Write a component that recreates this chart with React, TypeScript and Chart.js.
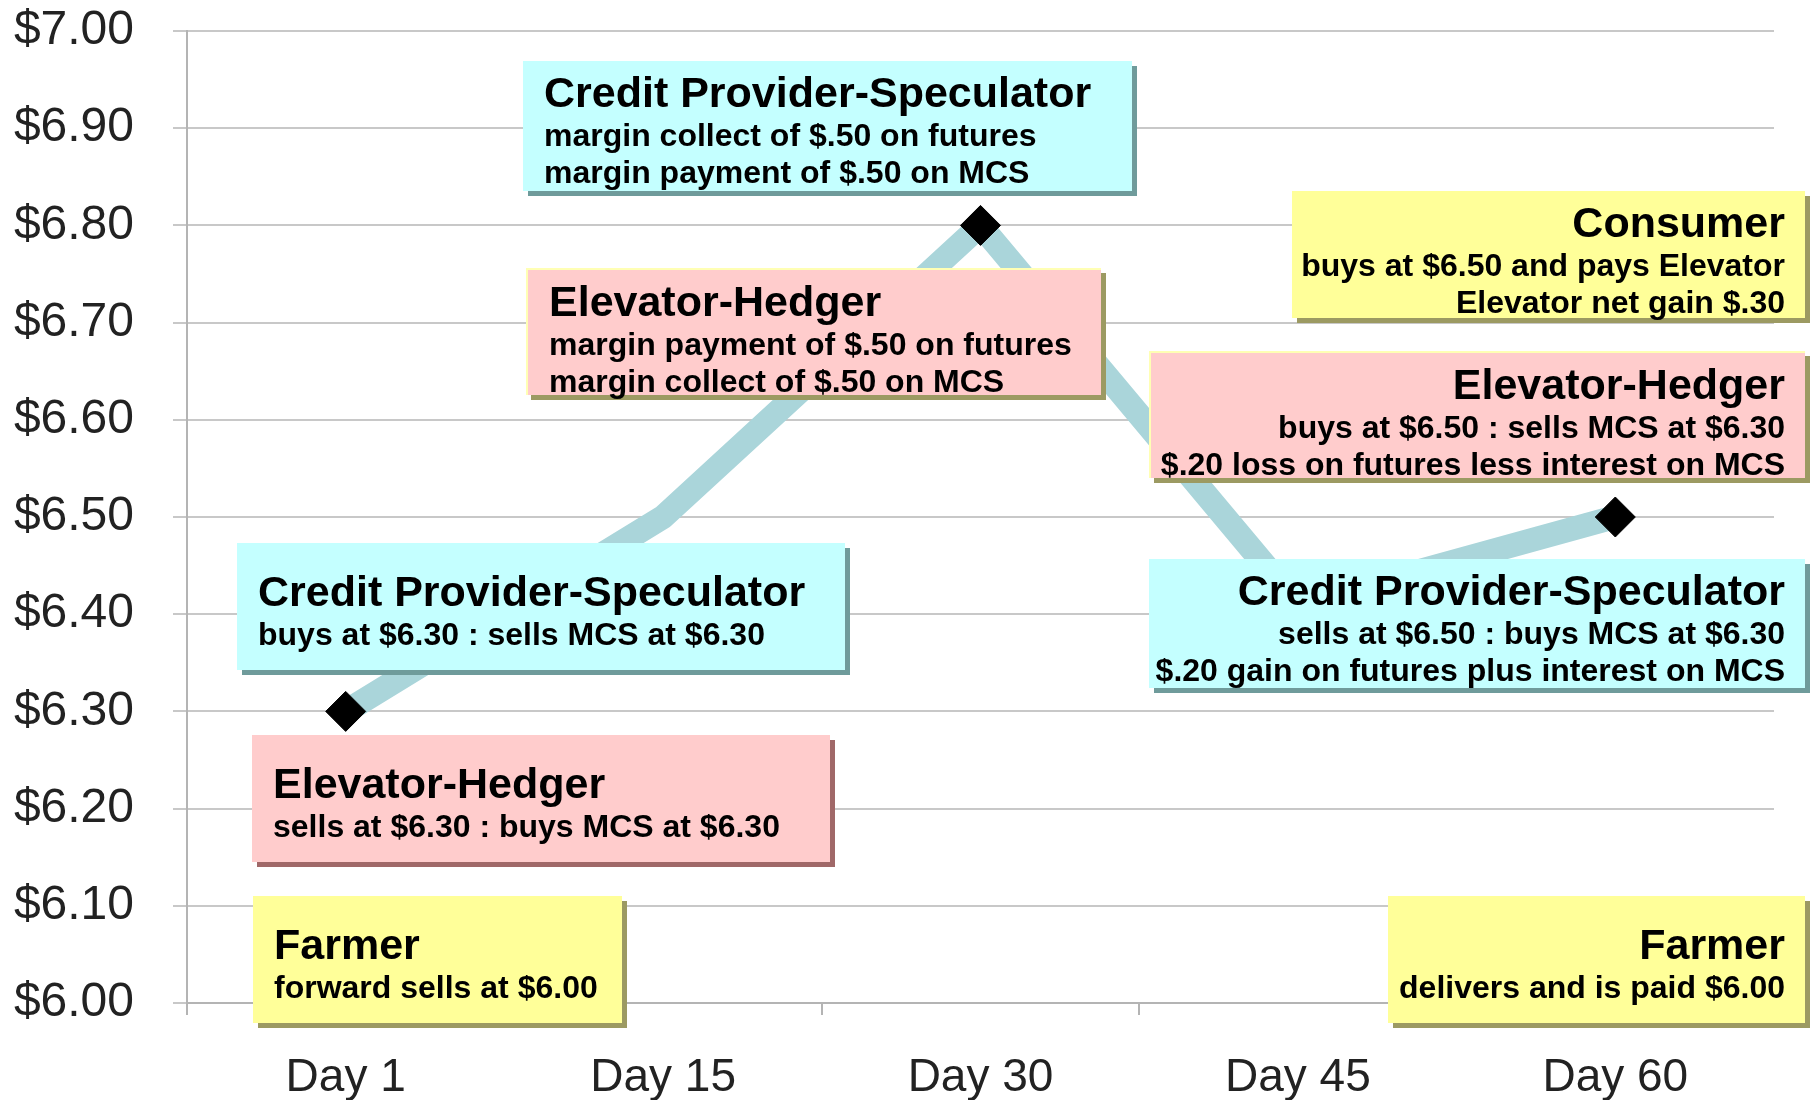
import React, { useEffect, useRef } from 'react';
import { Chart, registerables } from 'chart.js';

Chart.register(...registerables);

// ---- data ----
const days = ['Day 1', 'Day 15', 'Day 30', 'Day 45', 'Day 60'];
const prices = [6.3, 6.5, 6.8, 6.41, 6.5];
const markerSizes = [20, 0, 20, 0, 20];
const yMin = 6.0;
const yMax = 7.0;
const yStep = 0.1;

// ---- annotation texts ----
const boxTitles = [
  'Credit Provider-Speculator',
  'Elevator-Hedger',
  'Consumer',
  'Elevator-Hedger',
  'Credit Provider-Speculator',
  'Credit Provider-Speculator',
  'Elevator-Hedger',
  'Farmer',
  'Farmer',
];
const boxLines = [
  ['margin collect of $.50 on futures', 'margin payment of $.50 on MCS'],
  ['margin payment of $.50 on futures', 'margin collect of $.50 on MCS'],
  ['buys at $6.50 and pays Elevator', 'Elevator net gain $.30'],
  ['buys at $6.50 : sells MCS at $6.30', '$.20 loss on futures less interest on MCS'],
  ['sells at $6.50 : buys MCS at $6.30', '$.20 gain on futures plus interest on MCS'],
  ['buys at $6.30 : sells MCS at $6.30'],
  ['sells at $6.30 : buys MCS at $6.30'],
  ['forward sells at $6.00'],
  ['delivers and is paid $6.00'],
];

// ---- styles / layout (not data) ----
const FONT = '"Liberation Sans", Arial, Helvetica, sans-serif';
const palettes: Record<string, { fill: string; shadow: string; edge?: string }> = {
  cyan: { fill: '#c4ffff', shadow: '#6f9b9b' },
  pink: { fill: '#ffcccc', shadow: '#a06868' },
  pinkY: { fill: '#ffcccc', shadow: '#9c9a62', edge: '#ffffb4' },
  yellow: { fill: '#ffff99', shadow: '#9c9a62' },
};
const boxLayout = [
  { kind: 'cyan', left: 523, top: 61, width: 609, height: 130, align: 'left' },
  { kind: 'pinkY', left: 526, top: 268, width: 575, height: 127, align: 'left' },
  { kind: 'yellow', left: 1292, top: 191, width: 513, height: 127, align: 'right' },
  { kind: 'pinkY', left: 1149, top: 351, width: 656, height: 127, align: 'right' },
  { kind: 'cyan', left: 1149, top: 559, width: 656, height: 129, align: 'right' },
  { kind: 'cyan', left: 237, top: 543, width: 608, height: 127, align: 'left' },
  { kind: 'pink', left: 252, top: 735, width: 578, height: 127, align: 'left' },
  { kind: 'yellow', left: 253, top: 896, width: 369, height: 127, align: 'left' },
  { kind: 'yellow', left: 1388, top: 896, width: 417, height: 127, align: 'right' },
];

function InfoBox({ idx }: { idx: number }) {
  const lay = boxLayout[idx];
  const pal = palettes[lay.kind];
  const lines = boxLines[idx];
  const three = lines.length >= 2;
  const padTop = three ? 6 : 24;
  const titleLH = three ? 50 : 49;
  const right = lay.align === 'right';
  return (
    <div
      style={{
        position: 'absolute',
        left: lay.left,
        top: lay.top,
        width: lay.width,
        height: lay.height,
        boxSizing: 'border-box',
        background: pal.fill,
        boxShadow: `5px 5px 0 ${pal.shadow}`,
        borderTop: pal.edge ? `2px solid ${pal.edge}` : undefined,
        borderLeft: pal.edge ? `2px solid ${pal.edge}` : undefined,
        padding: right ? `${padTop}px 20px 0 2px` : `${padTop}px 4px 0 21px`,
        textAlign: lay.align as any,
        fontFamily: FONT,
        fontWeight: 'bold',
        color: '#000',
        whiteSpace: 'nowrap',
      }}
    >
      <div style={{ fontSize: 43, lineHeight: `${titleLH}px` }}>{boxTitles[idx]}</div>
      {lines.map((t, i) => (
        <div key={i} style={{ fontSize: 32, lineHeight: '37px' }}>
          {t}
        </div>
      ))}
    </div>
  );
}

export default function App() {
  const canvasRef = useRef<HTMLCanvasElement | null>(null);

  useEffect(() => {
    const canvas = canvasRef.current;
    if (!canvas) return;
    const chart = new Chart(canvas, {
      type: 'line',
      data: {
        labels: days,
        datasets: [
          {
            data: prices,
            borderColor: '#aad5da',
            borderWidth: 24,
            borderJoinStyle: 'round',
            borderCapStyle: 'round',
            tension: 0,
            pointStyle: 'rectRot',
            pointRadius: markerSizes,
            pointHoverRadius: markerSizes,
            pointBackgroundColor: '#000',
            pointBorderColor: '#000',
            pointBorderWidth: 1,
            clip: false,
          } as any,
        ],
      },
      options: {
        animation: false,
        responsive: false,
        events: [],
        layout: { padding: { left: 0, right: 38, top: 31, bottom: 0 } },
        plugins: { legend: { display: false }, tooltip: { enabled: false } },
        scales: {
          x: {
            type: 'category',
            offset: true,
            grid: {
              display: true,
              drawOnChartArea: false,
              drawTicks: true,
              tickLength: 12,
              offset: true,
              color: '#b4b4b4',
              lineWidth: 2,
            },
            border: { display: true, color: '#b4b4b4', width: 2 },
            ticks: {
              color: '#222',
              font: { family: FONT, size: 46 },
              padding: 36,
              maxRotation: 0,
              autoSkip: false,
            },
            afterFit: (s: any) => {
              s.height = 97;
              s.paddingLeft = 0;
              s.paddingRight = 0;
            },
          },
          y: {
            min: yMin,
            max: yMax,
            ticks: {
              stepSize: yStep,
              callback: (v: any) => '$' + Number(v).toFixed(2),
              color: '#222',
              font: { family: FONT, size: 48 },
              padding: 39,
            },
            grid: { color: '#c8c8c8', lineWidth: 2, tickLength: 14, drawTicks: true },
            border: { display: true, color: '#b4b4b4', width: 2 },
            afterFit: (s: any) => {
              s.width = 187;
              s.paddingTop = 0;
              s.paddingBottom = 0;
            },
          },
        },
      } as any,
    });
    return () => chart.destroy();
  }, []);

  return (
    <div
      style={{
        position: 'absolute',
        left: 0,
        top: 0,
        width: 1812,
        height: 1100,
        background: '#fff',
        overflow: 'hidden',
      }}
    >
      <canvas
        ref={canvasRef}
        width={1812}
        height={1100}
        style={{ position: 'absolute', left: 0, top: 0 }}
      />
      {boxTitles.map((_, i) => (
        <InfoBox key={i} idx={i} />
      ))}
    </div>
  );
}
